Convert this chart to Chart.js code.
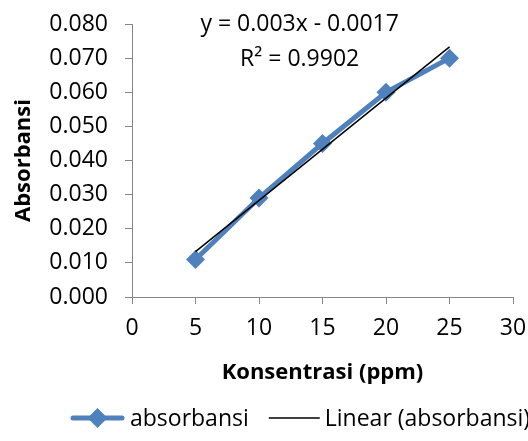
<!DOCTYPE html>
<html>
<head>
<meta charset="utf-8">
<script src="https://cdn.jsdelivr.net/npm/chart.js@4.4.0/dist/chart.umd.min.js"></script>
<style>
  html, body { margin: 0; padding: 0; background: #fff; }
</style>
</head>
<body>
<canvas id="myChart" width="528" height="441"></canvas>
<script>
// data
var konsentrasi = [5, 10, 15, 20, 25];
var absorbansi = [0.011, 0.029, 0.045, 0.060, 0.070];
var trendX = [5, 25];
var trendY = [0.0133, 0.0733];
var persamaan = ['y = 0.003x - 0.0017', 'R\u00B2 = 0.9902'];

var biru = '#4F81BD';
var abu = '#868686';
var huruf = '"Open Sans", Lato, sans-serif';

var titikData = konsentrasi.map(function (x, i) { return { x: x, y: absorbansi[i] }; });
var titikTrend = trendX.map(function (x, i) { return { x: x, y: trendY[i] }; });

// equation of the trendline, placed in data space above the line
var labelPersamaan = {
  id: 'labelPersamaan',
  afterDatasetsDraw: function (chart) {
    var g = chart.ctx;
    var sx = chart.scales.x, sy = chart.scales.y;
    g.save();
    g.font = '23px ' + huruf;
    g.fillStyle = '#000';
    g.textAlign = 'center';
    g.textBaseline = 'middle';
    g.fillText(persamaan[0], sx.getPixelForValue(13.2), sy.getPixelForValue(0.0799));
    g.fillText(persamaan[1], sx.getPixelForValue(13.2), sy.getPixelForValue(0.0697));
    g.restore();
  }
};

// excel style legend at the bottom (line swatch, diamond on the first one)
var legendaBawah = {
  id: 'legendaBawah',
  afterDraw: function (chart) {
    var g = chart.ctx;
    var y = 418;
    var x = 70;
    g.save();
    g.font = '23px ' + huruf;
    g.textBaseline = 'middle';
    g.textAlign = 'left';
    chart.data.datasets.forEach(function (d, i) {
      var w = i === 0 ? 55 : 51;
      g.strokeStyle = d.borderColor;
      g.lineWidth = d.borderWidth;
      g.lineCap = i === 0 ? 'round' : 'butt';
      g.beginPath();
      g.moveTo(x + (i === 0 ? 3 : 0), y);
      g.lineTo(x + w - (i === 0 ? 3 : 0), y);
      g.stroke();
      if (i === 0) {
        g.fillStyle = d.borderColor;
        g.beginPath();
        g.moveTo(x + w / 2, y - 10); g.lineTo(x + w / 2 + 10, y); g.lineTo(x + w / 2, y + 10); g.lineTo(x + w / 2 - 10, y);
        g.closePath();
        g.fill();
      }
      g.fillStyle = '#000';
      g.fillText(d.label, x + w + 5, y + 1);
      x += w + 5 + g.measureText(d.label).width + 20;
    });
    g.restore();
  }
};

var ctx = document.getElementById('myChart');
var myChart = new Chart(ctx, {
  type: 'scatter',
  data: {
    datasets: [{
      label: 'absorbansi',
      data: titikData,
      showLine: true,
      borderColor: biru,
      backgroundColor: biru,
      borderWidth: 5,
      pointStyle: 'rectRot',
      pointRadius: 9.5,
      pointBorderWidth: 0,
      order: 2
    }, {
      label: 'Linear (absorbansi)',
      data: titikTrend,
      showLine: true,
      borderColor: '#000',
      backgroundColor: '#000',
      borderWidth: 1.5,
      pointRadius: 0,
      order: 1
    }]
  },
  options: {
    responsive: false,
    animation: false,
    layout: { autoPadding: false, padding: { top: 0, right: 0, bottom: 44, left: 0 } },
    scales: {
      x: {
        type: 'linear',
        min: 0, max: 30,
        ticks: { stepSize: 5, color: '#000', font: { family: huruf, size: 23 }, padding: 11, maxRotation: 0 },
        grid: { drawOnChartArea: false, tickLength: 7, color: abu },
        border: { color: abu, width: 1 },
        title: { display: true, text: 'Konsentrasi (ppm)', color: '#000', font: { family: huruf, size: 22, weight: 'bold' }, padding: { top: 4, bottom: 11 } },
        afterFit: function (s) { s.height = 100; s.paddingRight = 15; s.paddingLeft = 0; }
      },
      y: {
        min: 0, max: 0.08,
        ticks: { stepSize: 0.01, color: '#000', font: { family: huruf, size: 23 }, padding: 17,
          callback: function (v) { return v.toFixed(3); } },
        grid: { drawOnChartArea: false, tickLength: 7, color: abu },
        border: { color: abu, width: 1 },
        title: { display: true, text: 'Absorbansi', color: '#000', font: { family: huruf, size: 22, weight: 'bold' }, padding: { top: 11, bottom: 0 } },
        afterFit: function (s) { s.width = 132; s.paddingTop = 24; s.paddingBottom = 0; }
      }
    },
    plugins: {
      tooltip: { enabled: false },
      legend: { display: false }
    }
  },
  plugins: [labelPersamaan, legendaBawah]
});
</script>
</body>
</html>
